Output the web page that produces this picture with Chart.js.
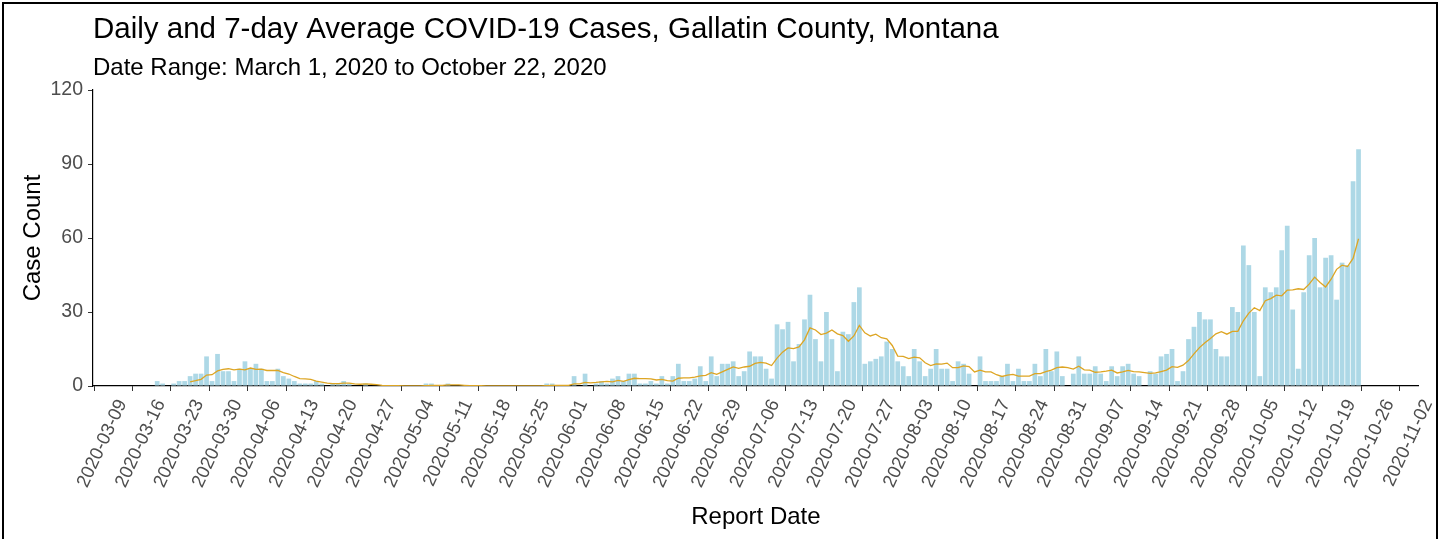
<!DOCTYPE html>
<html>
<head>
<meta charset="utf-8">
<title>Gallatin County COVID-19 cases</title>
<script src="https://cdn.jsdelivr.net/npm/chart.js@4.4.1/dist/chart.umd.min.js"></script>
<style>
  html, body { margin: 0; padding: 0; background: #fff; }
  #wrap { position: relative; width: 1444px; height: 539px; overflow: hidden; }
  #frame { position: absolute; left: 2px; top: 2px; width: 1432px; height: 545px; border: 2px solid #000; pointer-events: none; }
  canvas { position: absolute; left: 0; top: 0; }
</style>
</head>
<body>
<div id="wrap">
  <canvas id="casesChart" width="1444" height="539" role="img" aria-label="Daily and 7-day average COVID-19 cases in Gallatin County, Montana, March 1 to October 22, 2020"></canvas>
  <div id="frame"></div>
</div>
<script>
// daily reported cases, one value per day starting 2020-03-01
const startDate = '2020-03-01';
const marCases = [0,0,0,0,0,0,0,0,0,0,0,0,0,0,0,0,2,1,0,1,2,2,4,5,5,12,2,13,6,6,2];
const aprCases = [7,10,7,9,7,2,2,7,4,3,2,1,1,1,2,1,0,1,1,2,1,0,0,1,0,0,0,0,0,0];
const mayCases = [0,0,0,0,1,1,0,0,1,0,0,0,0,0,0,0,0,0,0,0,0,0,0,0,0,0,1,1,0,0,0];
const junCases = [4,0,5,0,1,2,1,3,4,2,5,5,1,1,2,1,4,1,4,9,2,2,3,8,2,12,4,9,9,10];
const julCases = [4,6,14,12,12,7,3,25,23,26,10,17,27,37,19,10,30,19,6,22,21,34,40,9,10,11,12,18,15,10,8];
const augCases = [4,15,10,4,7,15,7,7,2,10,9,5,0,12,2,2,2,4,9,2,7,2,2,9,4,15,6,14,4,0,5];
const sepCases = [12,5,5,8,5,2,8,4,8,9,5,4,0,6,5,12,13,15,2,6,19,24,30,27,27,15,12,12,32,30];
const octCases = [57,49,30,4,40,38,40,55,65,31,7,38,53,60,40,52,53,35,50,49,83,96];

// 7-day average line (starts 2020-03-23)
const marAvg = [null,null,null,null,null,null,null,null,null,null,null,null,null,null,null,null,null,null,null,null,null,null,
  1.71,2.14,2.71,4.43,4.57,6.14,6.71,7.0,6.57];
const aprAvg = [6.86,6.57,7.29,6.71,6.86,6.29,6.29,6.29,5.43,4.86,3.86,3.0,2.86,2.71,2.0,1.57,1.14,1.0,1.0,1.14,
  1.14,0.86,0.71,0.86,0.71,0.57,0.29,0.14,0.14,0.14];
const mayAvg = [0,0,0,0,0.14,0.29,0.29,0.29,0.43,0.43,0.43,0.29,0.14,0.14,0.14,0,0,0,0,0,0,0,0,0,0,0,
  0.14,0.29,0.29,0.29,0.29];
const junAvg = [0.86,0.86,1.43,1.29,1.43,1.71,1.86,1.71,2.29,1.86,2.57,3.14,3.0,3.0,2.86,2.43,2.71,2.14,2.0,3.14,
  3.29,3.29,3.57,4.14,4.29,5.43,4.71,5.71,6.71,7.71];
const julAvg = [7.14,7.71,8.0,9.14,9.57,9.29,8.29,11.29,13.71,15.43,15.14,15.86,18.71,23.57,22.71,20.86,21.43,22.71,21.14,20.43,
  18.14,20.29,24.57,21.57,20.29,21.0,19.57,19.14,16.43,12.14,12.0];
const augAvg = [11.14,11.71,11.43,9.43,8.29,9.0,8.86,9.29,7.43,7.43,8.14,7.86,5.71,6.43,5.71,5.71,4.57,3.86,4.43,4.71,
  4.0,4.0,4.0,5.0,5.0,5.86,6.43,7.43,7.71,7.43,6.86];
const sepAvg = [8.0,6.57,6.43,5.57,5.71,6.0,6.43,5.29,5.71,6.29,5.86,5.71,5.43,5.14,5.29,5.86,6.43,7.86,7.57,8.43,
  10.29,13.0,15.57,17.57,19.29,21.14,22.0,21.0,22.14,22.14];
const octAvg = [26.43,29.57,31.71,30.57,34.57,35.43,36.86,36.57,38.86,39.0,39.43,39.14,41.29,44.14,42.0,40.14,43.29,47.29,49.0,48.43,
  51.71,59.71];

const tickLabels = ['2020-03-09','2020-03-16','2020-03-23','2020-03-30','2020-04-06','2020-04-13','2020-04-20','2020-04-27',
  '2020-05-04','2020-05-11','2020-05-18','2020-05-25','2020-06-01','2020-06-08','2020-06-15','2020-06-22','2020-06-29',
  '2020-07-06','2020-07-13','2020-07-20','2020-07-27','2020-08-03','2020-08-10','2020-08-17','2020-08-24','2020-08-31',
  '2020-09-07','2020-09-14','2020-09-21','2020-09-28','2020-10-05','2020-10-12','2020-10-19','2020-10-26','2020-11-02'];
const yTicks = [0, 30, 60, 90, 120];

const cases = [...marCases, ...aprCases, ...mayCases, ...junCases, ...julCases, ...augCases, ...sepCases, ...octCases];
const avg7 = [...marAvg, ...aprAvg, ...mayAvg, ...junAvg, ...julAvg, ...augAvg, ...sepAvg, ...octAvg];

const t0 = Date.parse(startDate);
const dayOf = s => (Date.parse(s) - t0) / 86400000;
const font = 'Liberation Sans, Arial, Helvetica, sans-serif';

new Chart(document.getElementById('casesChart'), {
  type: 'bar',
  data: {
    datasets: [
      {
        type: 'line',
        label: '7-day average',
        data: avg7.map((v, i) => ({ x: i, y: v })),
        borderColor: '#DDA523',
        borderWidth: 1.3,
        pointRadius: 0,
        tension: 0,
        order: 0,
      },
      {
        type: 'bar',
        label: 'Daily cases',
        data: cases.map((v, i) => ({ x: i, y: v })),
        backgroundColor: '#ADD8E6',
        barPercentage: 0.86,
        categoryPercentage: 1,
        order: 1,
      },
    ],
  },
  options: {
    responsive: false,
    animation: false,
    devicePixelRatio: 1,
    layout: { padding: { left: 0, right: 22, top: 0, bottom: 0 } },
    plugins: {
      legend: { display: false },
      tooltip: { enabled: false },
      title: {
        display: true,
        text: 'Daily and 7-day Average COVID-19 Cases, Gallatin County, Montana',
        align: 'start',
        fullSize: false,
        color: '#000',
        font: { family: font, size: 29.5, weight: 'normal' },
        padding: { top: 12.3, bottom: 2 },
      },
      subtitle: {
        display: true,
        text: 'Date Range: March 1, 2020 to October 22, 2020',
        align: 'start',
        fullSize: false,
        color: '#000',
        font: { family: font, size: 24, weight: 'normal' },
        padding: { top: 3.9, bottom: 7.6 },
      },
    },
    scales: {
      x: {
        type: 'linear',
        min: 4.3,
        max: 246,
        offset: false,
        z: 1,
        afterBuildTicks: s => { s.ticks = tickLabels.map(l => ({ value: dayOf(l) })); },
        afterFit: s => { s.height = 153; },
        grid: { drawOnChartArea: false, drawTicks: true, tickLength: 5, color: '#333' },
        border: { display: true, color: '#000', width: 1.2 },
        ticks: {
          autoSkip: false,
          minRotation: 65,
          maxRotation: 65,
          labelOffset: 9,
          padding: 5,
          color: '#4D4D4D',
          font: { family: font, size: 18.5 },
          callback: (v, i) => tickLabels[i],
        },
        title: {
          display: true,
          text: 'Report Date',
          color: '#000',
          font: { family: font, size: 24 },
          padding: { top: 0, bottom: 7.6 },
        },
      },
      y: {
        min: 0,
        max: 120,
        afterBuildTicks: s => { s.ticks = yTicks.map(v => ({ value: v })); },
        afterFit: s => { s.width = 93; },
        grid: { drawOnChartArea: false, drawTicks: true, tickLength: 5, color: '#333' },
        border: { display: true, color: '#000', width: 1.2 },
        ticks: { padding: 5, color: '#4D4D4D', font: { family: font, size: 19.5 } },
        title: {
          display: true,
          text: 'Case Count',
          color: '#000',
          font: { family: font, size: 24 },
          padding: { top: 19, bottom: 0 },
        },
      },
    },
  },
});
</script>
</body>
</html>
